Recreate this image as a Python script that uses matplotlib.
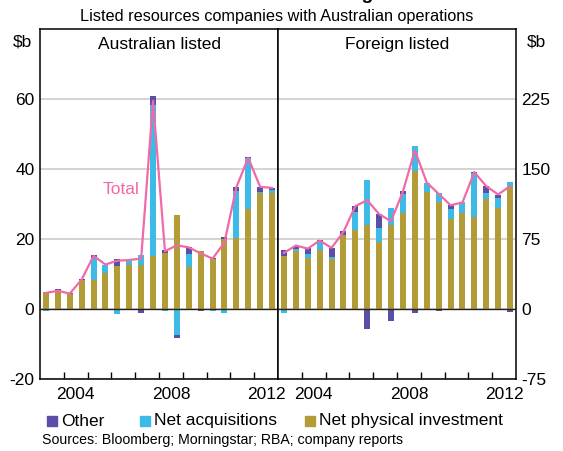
import numpy as np
import matplotlib.pyplot as plt
from matplotlib.patches import Rectangle

plt.rcParams["font.family"] = ["Liberation Sans", "DejaVu Sans"]
plt.rcParams["axes.unicode_minus"] = False

# half-yearly periods, 2003 H1 to 2012 H2
periods = np.arange(2003.25, 2013.0, 0.5)

# Australian listed ($b)
aus_phys = [5.0, 5.3, 4.3, 8.2, 8.3, 10.2, 12.2, 12.5, 12.5, 15.2,
            15.9, 26.8, 11.9, 16.5, 14.4, 19.9, 20.3, 28.5, 33.1, 33.1]
aus_acq = [-0.6, -0.3, -0.3, -0.3, 6.4, 2.5, -1.4, 1.3, 2.9, 43.0,
           -0.6, -7.4, 3.8, -0.4, -0.5, -1.1, 13.4, 14.7, 0.4, 0.8]
aus_other = [0.0, 0.3, 0.2, 0.3, 0.7, 0.0, 2.1, 0.0, -1.1, 2.6,
             1.1, -1.0, 1.9, -0.3, 0.2, 0.6, 1.1, 0.3, 1.3, 0.8]
aus_total = [4.6, 5.2, 4.4, 8.4, 15.2, 12.7, 13.8, 14.0, 14.4, 59.5,
             16.5, 18.2, 17.6, 15.9, 14.4, 19.0, 34.8, 43.2, 34.9, 34.6]

# Foreign listed ($b)
for_phys = [56.9, 61.9, 54.7, 63.3, 53.3, 79.0, 84.8, 89.8, 72.2, 89.8,
            102.6, 147.7, 125.5, 114.8, 96.2, 102.6, 98.4, 117.7, 108.4, 130.5]
for_acq = [-4.3, 2.1, 4.3, 8.6, 2.1, 0.0, 19.0, 48.3, 14.3, 18.2,
           20.7, 26.8, 10.0, 9.3, 10.7, 11.8, 46.9, 6.4, 10.7, 5.4]
for_other = [6.1, 3.9, 6.4, 1.8, 10.0, 4.3, 6.8, -21.5, 15.0, -12.9,
             2.9, -4.3, -1.0, -2.1, 4.3, 0.0, 1.4, 7.5, 2.9, -3.2]
for_total = [60.1, 68.0, 64.7, 73.3, 65.5, 82.6, 110.2, 116.6, 101.6, 94.1,
             125.9, 169.9, 135.5, 123.4, 111.2, 114.1, 146.6, 131.6, 122.7, 131.6]

c_other = "#5a4ea6"
c_acq = "#3dbbe6"
c_phys = "#b39b37"
c_total = "#f06aa8"
labels = ["Other", "Net acquisitions", "Net physical investment"]


def stack(ax, phys, acq, other):
    # positives stack upward, negatives downward
    pos = np.zeros(len(periods))
    neg = np.zeros(len(periods))
    for vals, col in [(phys, c_phys), (acq, c_acq), (other, c_other)]:
        v = np.array(vals)
        base = np.where(v >= 0, pos, neg)
        ax.bar(periods, v, 0.25, bottom=base, color=col, zorder=2)
        pos = pos + np.clip(v, 0, None)
        neg = neg + np.clip(v, None, 0)


fig = plt.figure(figsize=(5.63, 4.51), dpi=100)
W, H = 563, 451
ax1 = fig.add_axes([40 / W, 72 / H, 238 / W, 350 / H])
ax2 = fig.add_axes([278 / W, 72 / H, 238 / W, 350 / H])

stack(ax1, aus_phys, aus_acq, aus_other)
ax1.plot(periods, aus_total, color=c_total, lw=1.6, zorder=3)
stack(ax2, for_phys, for_acq, for_other)
ax2.plot(periods, for_total, color=c_total, lw=1.6, zorder=3)

ax1.set_ylim(-20, 80)
ax1.set_yticks([-20, 0, 20, 40, 60])
ax2.set_ylim(-75, 300)
ax2.set_yticks([-75, 0, 75, 150, 225])
ax2.yaxis.tick_right()

fs = 12.5
for ax in (ax1, ax2):
    ax.set_xlim(2003, 2013)
    ax.set_xticks([2004.5, 2008.5, 2012.5])
    ax.set_xticklabels(["2004", "2008", "2012"])
    ax.set_xticks(np.arange(2004, 2013), minor=True)
    ax.tick_params(axis="x", which="major", length=0, pad=6, labelsize=fs)
    ax.tick_params(axis="x", which="minor", direction="in", length=5, width=1)
    ax.tick_params(axis="y", length=0, pad=4, labelsize=fs)
    ax.grid(axis="y", color="#cccccc", lw=1.2, zorder=0)
    ax.axhline(0, color="#222222", lw=1, zorder=4)
    for s in ax.spines.values():
        s.set_linewidth(1.1)

ax1.text(0.5, 0.955, "Australian listed", transform=ax1.transAxes,
         ha="center", va="center", fontsize=fs)
ax2.text(0.5, 0.955, "Foreign listed", transform=ax2.transAxes,
         ha="center", va="center", fontsize=fs)
ax1.text(2006.4, 34, "Total", color=c_total, fontsize=fs, ha="center", va="center")

fig.text(22 / W, 1 - 42 / H, "$b", ha="center", va="center", fontsize=fs)
fig.text(536 / W, 1 - 42 / H, "$b", ha="center", va="center", fontsize=fs)

fig.text(0.5, 1 + 0.5 / H, "Sources of Funding", ha="center", va="baseline",
         fontsize=14, fontweight="bold")
fig.text(277 / W, 1 - 16 / H, "Listed resources companies with Australian operations",
         ha="center", va="center", fontsize=11.7)

# legend drawn by hand to keep the column positions
for x, col, lab in zip([47, 140, 305], [c_other, c_acq, c_phys], labels):
    fig.patches.append(Rectangle((x / W, 1 - 426 / H), 10 / W, 10 / H,
                                 transform=fig.transFigure, color=col))
    fig.text((x + 14) / W, 1 - 421 / H, lab, ha="left", va="center", fontsize=fs)

fig.text(42 / W, 1 - 440 / H, "Sources: Bloomberg; Morningstar; RBA; company reports",
         ha="left", va="center", fontsize=10.2)

fig.savefig("out.png", dpi=100)
